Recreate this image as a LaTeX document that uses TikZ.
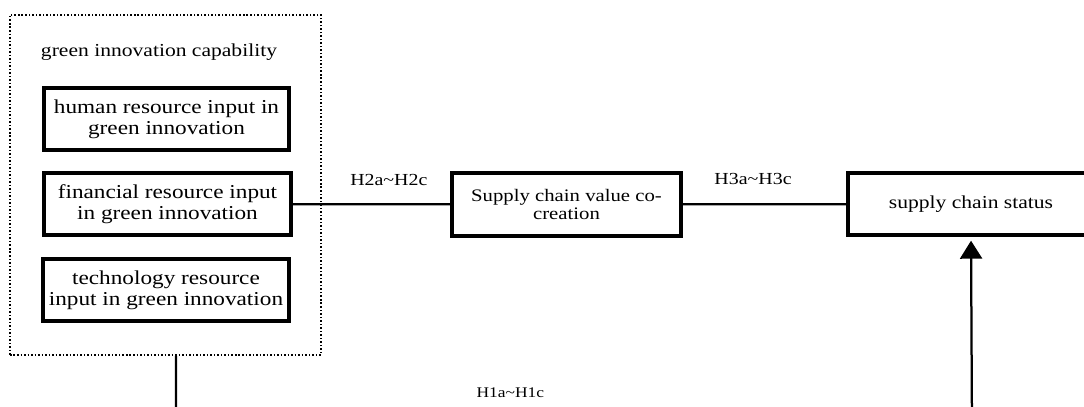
\documentclass[tikz,border=0pt]{standalone}
\usepackage{fontspec}
\setmainfont{Liberation Serif}[FakeStretch=1.18]
\usetikzlibrary{arrows.meta}

\tikzset{
  factor/.style={draw, line width=2.4pt, align=center, inner sep=0pt,
    minimum height=1.55cm, font=\fontsize{14}{15}\selectfont},
  hypo/.style={font=\fontsize{12}{14}\selectfont, inner sep=1pt},
  link/.style={line width=1.6pt},
}

\begin{document}
\begin{tikzpicture}[x=0.025cm, y=-0.025cm]
        \path[use as bounding box, clip] (0,0) rectangle (1084,407);

        % green innovation capability
        \node[draw, line width=1.1pt, dash pattern=on 1.1pt off 1.4pt,
              minimum width=7.775cm, minimum height=8.5cm] (gic) at (165.5,185) {};
        \node[font=\fontsize{13}{15}\selectfont] (gict) at (159,52) {green innovation capability};
        \node[factor, minimum width=6.125cm] (hr) at (166.5,119) {human resource input in\\green innovation};
        \node[factor, minimum width=6.175cm] (fr) at (167.5,204) {financial resource input\\in green innovation};
        \node[factor, minimum width=6.15cm] (tr) at (166,290) {technology resource\\input in green innovation};

        \node[factor, minimum width=5.725cm, minimum height=1.575cm,
              font=\fontsize{12.5}{13}\selectfont] (scv) at (566.5,204.5) {Supply chain value co-\\creation};
        \node[factor, minimum width=6.15cm, font=\fontsize{13}{15}\selectfont] (scs) at (971,204) {supply chain status};

        \coordinate (b1) at (176,430);
        \coordinate (b2) at (972,430);

        \draw[link] (fr) -- node[hypo, above=0.4cm, pos=0.61] (h2) {H2a\textasciitilde H2c} (scv);
        \draw[link] (scv) -- node[hypo, above=0.42cm, pos=0.43] (h3) {H3a\textasciitilde H3c} (scs);
        \draw[link, -{Triangle[width=0.55cm, length=0.45cm]}, shorten >=0.1cm]
            ([xshift=0.26cm]gic.south) -- (b1) -- node[hypo, font=\fontsize{10.5}{12}\selectfont, above=0.75cm, pos=0.42] (h1) {H1a\textasciitilde H1c} (b2) -- (scs.south);
    \end{tikzpicture}
\end{document}
